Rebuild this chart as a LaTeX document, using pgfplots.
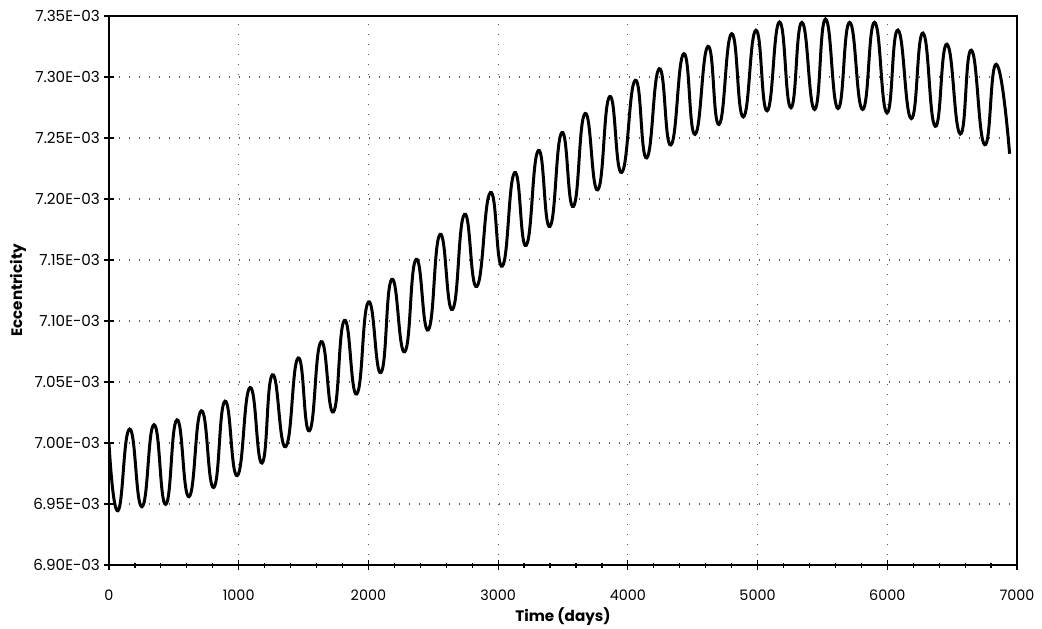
\documentclass[border=0pt]{standalone}
\usepackage{fontspec}
\setmainfont{Poppins}
\usepackage{pgfplots}
\pgfplotsset{compat=1.18}
\usepackage{pgfplotstable}
\pgfplotstableread{
t e
0 7.0000e-3
69 6.9445e-3
159 7.0114e-3
254 6.9478e-3
347 7.0150e-3
437 6.9497e-3
524 7.0190e-3
617 6.9560e-3
712 7.0264e-3
807 6.9635e-3
894 7.0343e-3
989 6.9733e-3
1087 7.0455e-3
1180 6.9836e-3
1260 7.0559e-3
1362 6.9970e-3
1458 7.0697e-3
1545 7.0100e-3
1635 7.0830e-3
1730 7.0255e-3
1815 7.1005e-3
1910 7.0402e-3
2000 7.1156e-3
2097 7.0578e-3
2180 7.1342e-3
2280 7.0748e-3
2367 7.1505e-3
2462 7.0928e-3
2552 7.1710e-3
2648 7.1095e-3
2740 7.1874e-3
2836 7.1284e-3
2940 7.2053e-3
3032 7.1450e-3
3127 7.2216e-3
3216 7.1620e-3
3310 7.2398e-3
3399 7.1775e-3
3491 7.2545e-3
3580 7.1939e-3
3670 7.2701e-3
3768 7.2075e-3
3860 7.2840e-3
3953 7.2218e-3
4057 7.2973e-3
4145 7.2337e-3
4242 7.3068e-3
4332 7.2443e-3
4431 7.3191e-3
4518 7.2530e-3
4618 7.3251e-3
4703 7.2611e-3
4800 7.3355e-3
4890 7.2673e-3
4987 7.3383e-3
5074 7.2723e-3
5169 7.3451e-3
5257 7.2748e-3
5342 7.3448e-3
5440 7.2734e-3
5524 7.3475e-3
5620 7.2742e-3
5710 7.3448e-3
5810 7.2734e-3
5902 7.3448e-3
5997 7.2706e-3
6082 7.3385e-3
6185 7.2659e-3
6275 7.3360e-3
6370 7.2596e-3
6460 7.3269e-3
6563 7.2533e-3
6648 7.3220e-3
6751 7.2445e-3
6841 7.3104e-3
6943 7.2371e-3
}\ecc
\begin{document}
\begin{tikzpicture}
\useasboundingbox (-54.5pt,-31.5pt) rectangle (466.5pt,282.5pt);
\begin{axis}[
  at={(0,0)}, anchor=south west,
  scale only axis,
  width=454pt, height=274.5pt,
  xmin=0, xmax=7000, ymin=6.9e-3, ymax=7.35e-3,
  xtick={0,1000,...,7000},
  minor x tick num=4,
  ytick={6.90e-3,6.95e-3,7.00e-3,7.05e-3,7.10e-3,7.15e-3,7.20e-3,7.25e-3,7.30e-3,7.35e-3},
  yticklabels={6.90E-03,6.95E-03,7.00E-03,7.05E-03,7.10E-03,7.15E-03,7.20E-03,7.25E-03,7.30E-03,7.35E-03},
  scaled y ticks=false, scaled x ticks=false,
  xticklabel={\pgfmathprintnumber[fixed,precision=0,1000 sep={}]{\tick}},
  /pgf/number format/assume math mode=true,
  tick pos=left, tick align=center,
  major tick length=5pt, minor tick length=2.5pt,
  tick style={black, line width=0.6pt},
  axis line style={black, line width=0.9pt},
  grid=major,
  major grid style={black!65, line width=0.6pt, dash pattern=on 0.6pt off 4.4pt},
  x tick label style={font=\fontsize{7.2}{8}\selectfont, anchor=center, yshift=-12.5pt},
  y tick label style={font=\fontsize{7.6}{9}\selectfont, anchor=east, xshift=1.5pt},
  xlabel={Time (days)},
  ylabel={Eccentricity},
  label style={font=\fontsize{7.6}{9}\selectfont\bfseries},
  xlabel style={at={(axis description cs:0.5,0)}, anchor=center, yshift=-26pt},
  ylabel style={at={(axis description cs:0,0.5)}, anchor=center, yshift=45.5pt},
]
\addplot[black, line width=1.5pt, smooth, tension=0.9] table[x=t, y=e] {\ecc};
\end{axis}
\end{tikzpicture}
\end{document}
